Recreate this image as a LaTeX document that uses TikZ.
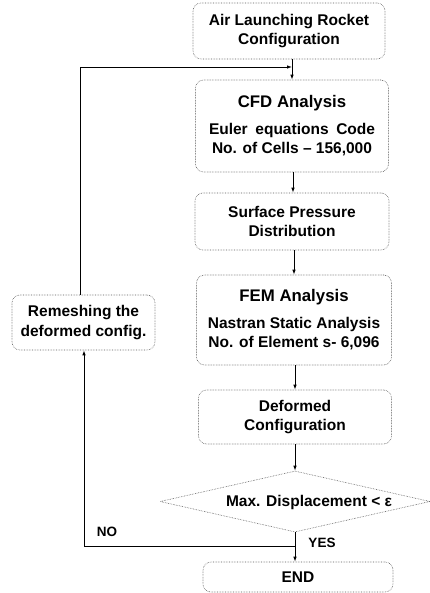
\documentclass[tikz,border=0pt]{standalone}
\usepackage{fontspec}
\setmainfont{Liberation Sans}
\usetikzlibrary{shapes.geometric,arrows.meta}
\begin{document}
\begin{tikzpicture}[x=1pt,y=-1pt,
  box/.style={draw=black!65, densely dotted, line width=0.6pt, rounded corners=8pt,
    align=center, font=\fontsize{15.5}{19.5}\selectfont\bfseries, inner sep=2pt},
  arr/.style={draw=black, line width=0.8pt, -{Latex[length=5pt,width=3.5pt]}},
  lbl/.style={font=\fontsize{13.5}{15}\selectfont\bfseries, inner sep=0pt}]
\useasboundingbox (0,0) rectangle (430,593);
\node[box, minimum width=192pt, minimum height=56pt] (b1) at (289,31)
  {Air Launching Rocket\\Configuration};
\node[box, minimum width=193pt, minimum height=92pt] (cfd) at (292,126)
  {{\fontsize{16.8}{17}\selectfont CFD Analysis}\\[7pt]\fontsize{15.5}{17}\selectfont\makebox[166pt][s]{Euler equations Code}\\No. of Cells -- 156,000};
\node[box, minimum width=194pt, minimum height=57pt] (sp) at (292,221.5)
  {Surface Pressure\\Distribution};
\node[box, minimum width=195pt, minimum height=90pt] (fem) at (294,320)
  {{\fontsize{16.8}{17}\selectfont FEM Analysis}\\[7pt]\fontsize{15.5}{17}\selectfont Nastran Static Analysis\\No. of Element s- 6,096};
\node[box, minimum width=193pt, minimum height=54pt] (def) at (295,417)
  {Deformed\\Configuration};
\node[draw=black!65, densely dotted, line width=0.6pt, diamond, aspect=4.43, inner sep=0pt,
  minimum width=270pt, minimum height=61pt] (dec) at (295,501.5) {};
\node[font=\fontsize{15.5}{17}\selectfont\bfseries, inner sep=0pt] (dect) at (309,502)
  {Max. Displacement < ε};
\node[box, minimum width=190pt, minimum height=30pt] (end) at (298,577) {END};
\node[box, minimum width=143pt, minimum height=55pt] (rem) at (83.5,322.5)
  {Remeshing the\\deformed config.};
% main flow
\coordinate (j) at (292,67);
\draw[arr] (292,59) -- (cfd.north -| j);
\draw[arr] (cfd.south -| 293,0) -- (sp.north -| 293,0);
\draw[arr] (sp.south -| 294,0) -- (fem.north -| 294,0);
\draw[arr] (fem.south -| 295,0) -- (def.north -| 295,0);
\draw[arr] (def.south -| 295,0) -- (dec.north);
\coordinate (k) at (295,546);
\draw[arr] (dec.south) -- (end.north -| dec.south);
% loop
\draw[arr] (k) -| (84,0 |- rem.south);
\draw[arr] (rem.north -| 80,0) |- (j);
\node[lbl] (no) at (107,532) {NO};
\node[lbl] (yes) at (322,543) {YES};
\end{tikzpicture}
\end{document}
